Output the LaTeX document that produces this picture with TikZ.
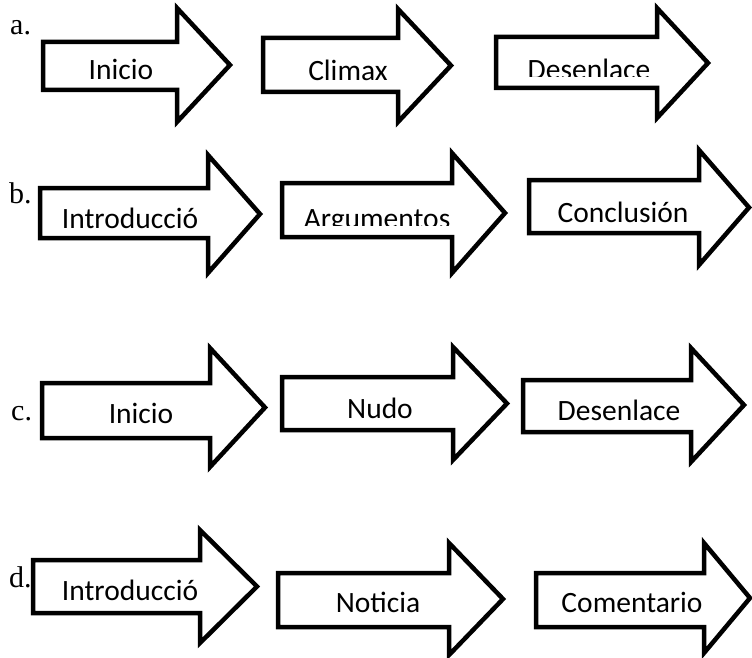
\documentclass[tikz,border=0pt]{standalone}
\usepackage{fontspec}
\setmainfont{Liberation Serif}
\newfontfamily\calibri{Carlito}
\usepackage{tikz}

% forma della freccia: nome, x sinistra, y alto, y basso, x base punta, y alto punta, y basso punta, x punta
\newcommand{\freccia}[8]{%
	\draw [forma] (#2,#3) -- (#5,#3) -- (#5,#6) -- (#8,{(#6+#7)/2}) -- (#5,#7) -- (#5,#4) -- (#2,#4) -- cycle;}

\tikzset{
	forma/.style={line width=4.5pt, fill=white},
	testo/.style={font=\calibri\fontsize{29.5}{29.5}\selectfont, inner sep=0pt, anchor=base},
	lettera/.style={font=\fontsize{30}{30}\selectfont, inner sep=0pt, anchor=base west}
}

\begin{document}
\begin{tikzpicture}[x=1pt,y=-1pt]
		\useasboundingbox (0,0) rectangle (752,658);
		
		% Riga a
		\node [lettera] (la) at (10,35) {a.};
		\freccia{a1}{43}{42}{90}{177}{8}{122}{230}
		\freccia{a2}{263}{38}{92}{398}{9}{122}{451}
		\freccia{a3}{496}{37}{88}{657}{8}{118}{708}
		\node [testo] (inicioa) at (121,80) {Inicio};
		\node [testo] (climax) at (348,81) {Climax};
		\begin{scope}
			\clip (510,40) rectangle (670,77);
			\node [testo] (desenlacea) at (589,80) {Desenlace};
		\end{scope}
		
		% Riga b
		\node [lettera] (lb) at (9,203) {b.};
		\freccia{b1}{40}{188}{238}{208}{155}{273}{260}
		\freccia{b2}{282}{183}{237}{452}{153}{273}{505}
		\freccia{b3}{529}{180}{233}{699}{150}{265}{749}
		\node [testo] (introb) at (130,228) {Introducció};
		\begin{scope}
			\clip (290,190) rectangle (460,225);
			\node [testo] (argumentos) at (377,228) {Argumentos};
		\end{scope}
		\node [testo] (conclusion) at (623,222) {Conclusión};
		
		% Riga c
		\node [lettera] (lc) at (11,420) {c.};
		\freccia{c1}{42}{383}{438}{210}{348}{467}{265}
		\freccia{c2}{282}{377}{430}{453}{347}{460}{507}
		\freccia{c3}{523}{380}{432}{691}{348}{462}{744}
		\node [testo] (inicioc) at (141,423) {Inicio};
		\node [testo] (nudo) at (380,418) {Nudo};
		\node [testo] (desenlacec) at (619,420) {Desenlace};
		
		% Riga d
		\node [lettera] (ld) at (9,587) {d.};
		\freccia{d1}{33}{560}{613}{200}{530}{643}{257}
		\freccia{d2}{278}{573}{627}{449}{543}{655}{503}
		\freccia{d3}{536}{573}{627}{704}{543}{653}{750}
		\node [testo] (introd) at (130,600) {Introducció};
		\node [testo] (noticia) at (378,612) {Noticia};
		\node [testo] (comentario) at (632,612) {Comentario};
	\end{tikzpicture}
\end{document}
